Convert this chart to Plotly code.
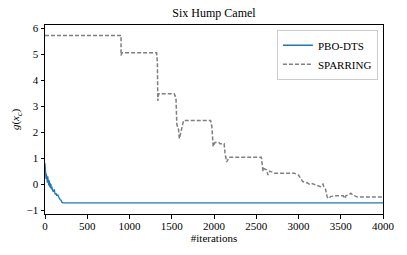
import plotly.graph_objects as go

pbo_x = [0, 4, 8, 12, 16, 20, 24, 28, 32, 36, 40, 45, 50, 55, 60, 65, 70, 75, 80, 90,
         100, 110, 120, 130, 140, 150, 160, 170, 180, 190, 200, 210, 4000]
pbo_y = [0.8, 0.45, 0.6, 0.2, 0.4, 0.1, 0.35, 0.05, 0.3, 0.0, 0.2, -0.05, 0.15, -0.1, 0.05,
         -0.15, 0.0, -0.2, -0.1, -0.25, -0.3, -0.2, -0.4, -0.35, -0.45, -0.4, -0.5, -0.55,
         -0.6, -0.62, -0.7, -0.72, -0.72]

sp_x = [0, 900, 900, 910, 1320, 1330, 1335, 1345, 1530, 1550, 1560, 1580, 1590, 1605, 1620,
        1640, 1960, 1975, 1990, 2000, 2010, 2060, 2070, 2120, 2130, 2150, 2170, 2180, 2560,
        2570, 2580, 2590, 2620, 2640, 2660, 2700, 2720, 2950, 2970, 3000, 3020, 3050, 3100,
        3130, 3160, 3200, 3230, 3260, 3290, 3300, 3320, 3340, 3360, 3380, 3430, 3530, 3550,
        3560, 3600, 3620, 3640, 3680, 3700, 4000]
sp_y = [5.72, 5.72, 4.95, 5.05, 5.05, 4.7, 3.2, 3.48, 3.48, 3.3, 2.3, 2.1, 1.75, 2.0, 2.2,
        2.45, 2.45, 2.2, 1.45, 1.5, 1.6, 1.6, 1.55, 1.55, 1.2, 0.85, 1.0, 1.03, 1.03,
        0.8, 0.5, 0.6, 0.55, 0.35, 0.5, 0.45, 0.42, 0.42, 0.38, 0.35, 0.25, 0.1, 0.05,
        0.0, 0.02, -0.02, -0.05, -0.1, 0.0, -0.1, -0.2, -0.5, -0.55, -0.48, -0.45, -0.45, -0.55,
        -0.45, -0.4, -0.35, -0.42, -0.48, -0.5, -0.5]

x_ticks = [0, 500, 1000, 1500, 2000, 2500, 3000, 3500, 4000]
y_ticks = [-1, 0, 1, 2, 3, 4, 5, 6]
y_ticktext = ["\u22121", "0", "1", "2", "3", "4", "5", "6"]

font = "Liberation Serif, DejaVu Serif, serif"

fig = go.Figure()
fig.add_trace(go.Scatter(x=pbo_x, y=pbo_y, mode="lines", name="PBO-DTS",
                         line=dict(color="#1f77b4", width=1.3)))
fig.add_trace(go.Scatter(x=sp_x, y=sp_y, mode="lines", name="SPARRING",
                         line=dict(color="#7f7f7f", width=1.5, dash="4px,2px")))

fig.update_layout(
    width=407, height=255,
    margin=dict(l=45, r=24, t=25, b=41, autoexpand=False),
    paper_bgcolor="white", plot_bgcolor="white",
    font=dict(family=font, size=11, color="black"),
    title=dict(text="Six Hump Camel", x=0.5, xref="paper", xanchor="center",
               y=1 - 13 / 255, yanchor="middle", font=dict(size=12, family=font)),
    showlegend=True,
    legend=dict(x=0.985, y=0.975, xanchor="right", yanchor="top",
                bordercolor="#cccccc", borderwidth=1, bgcolor="rgba(255,255,255,0.8)",
                font=dict(size=11, family=font), tracegroupgap=0),
)
fig.update_xaxes(range=[0, 4000], tickvals=x_ticks, ticks="outside", ticklen=3.5,
                 tickcolor="black", showline=True, linecolor="black", linewidth=1,
                 mirror=True, showgrid=False, zeroline=False, automargin=False,
                 tickfont=dict(family=font, size=11), ticklabelstandoff=-2,
                 title=dict(text="#iterations", standoff=0, font=dict(size=11, family=font)))
fig.update_yaxes(range=[-1.15, 6.12], tickvals=y_ticks, ticktext=y_ticktext,
                 ticks="outside", ticklen=3.5,
                 tickcolor="black", showline=True, linecolor="black", linewidth=1,
                 mirror=True, showgrid=False, zeroline=False, automargin=False,
                 tickfont=dict(family=font, size=11),
                 title=dict(text="<i>g</i>(<i>x</i><sub><i>c</i></sub>)", standoff=4,
                            font=dict(size=11, family=font)))

fig.write_html("out.html", config={"displayModeBar": False},
               post_script="document.body.style.margin='0';document.body.style.padding='0';")
